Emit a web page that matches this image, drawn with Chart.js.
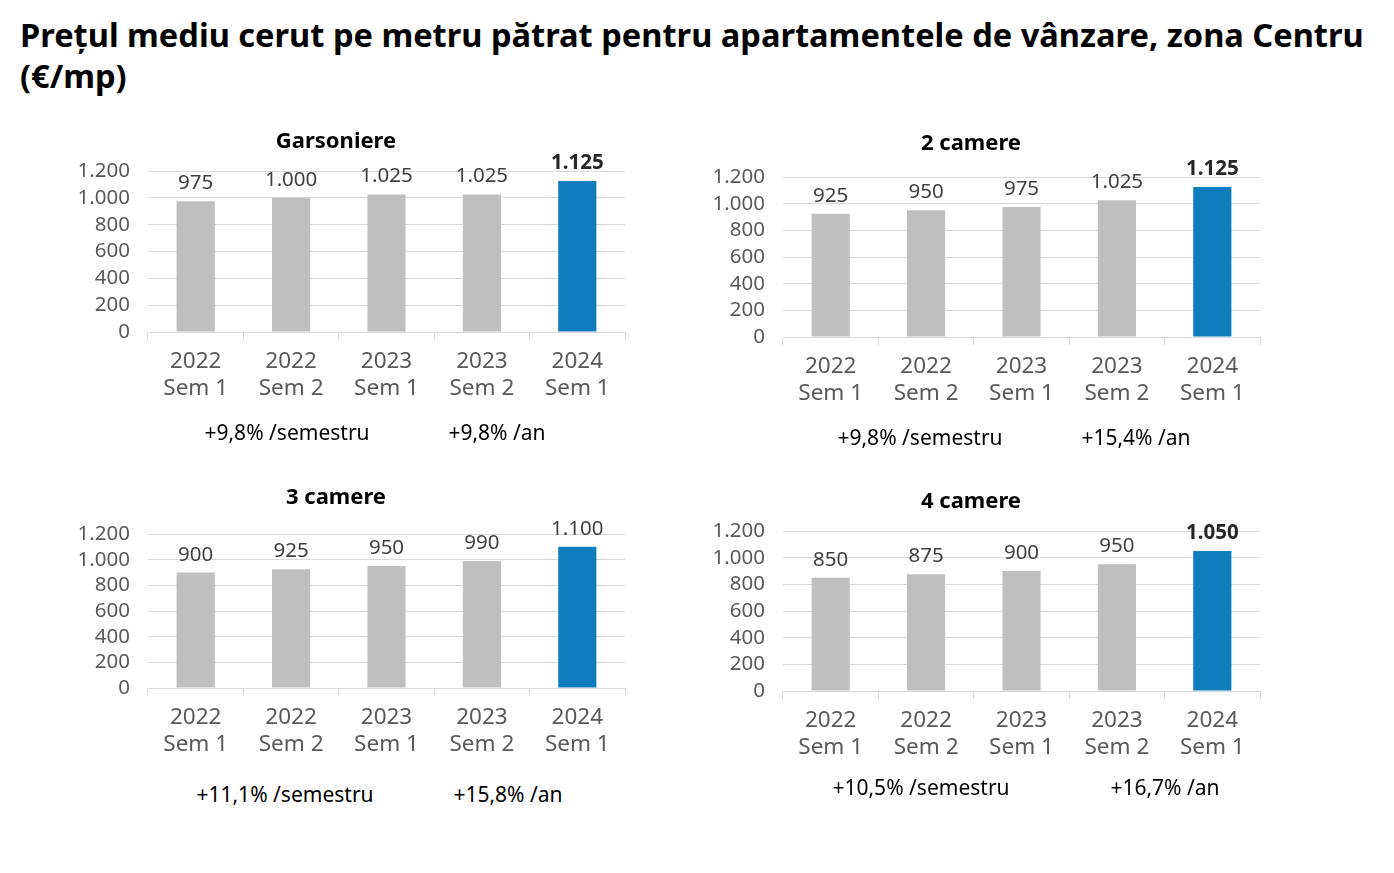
<!DOCTYPE html>
<html>
<head>
<meta charset="utf-8">
<script src="https://cdn.jsdelivr.net/npm/chart.js@4.4.1/dist/chart.umd.min.js"></script>
<style>
  html, body { margin:0; padding:0; background:#fff; }
  body { width:1394px; height:873px; position:relative; overflow:hidden; font-family:"Noto Sans", sans-serif; }
  #title { position:absolute; left:20px; top:14px; width:1374px; font-size:32.6px; font-weight:bold; line-height:41px; color:#000; white-space:nowrap; }
  .box { position:absolute; }
  .ctitle { position:absolute; transform:translate(-50%,-50%); font-size:22px; font-weight:bold; color:#000; white-space:nowrap; }
  .ann { position:absolute; transform:translate(-50%,-50%); font-size:21px; color:#000; white-space:nowrap; }
</style>
</head>
<body>
<div id="title">Prețul mediu cerut pe metru pătrat pentru apartamentele de vânzare, zona Centru<br>(€/mp)</div>

<script>
// ---- DATA ----
const categories = [["2022","Sem 1"],["2022","Sem 2"],["2023","Sem 1"],["2023","Sem 2"],["2024","Sem 1"]];
const yTicks = [0, 200, 400, 600, 800, 1000, 1200];
const garsoniere = [975, 1000, 1025, 1025, 1125];
const camere2 = [925, 950, 975, 1025, 1125];
const camere3 = [900, 925, 950, 990, 1100];
const camere4 = [850, 875, 900, 950, 1050];
const chartTitles = ["Garsoniere", "2 camere", "3 camere", "4 camere"];
const semestruText = ["+9,8% /semestru", "+9,8% /semestru", "+11,1% /semestru", "+10,5% /semestru"];
const anText = ["+9,8% /an", "+15,4% /an", "+15,8% /an", "+16,7% /an"];
const lastBold = [true, true, false, true];

// ---- LAYOUT ----
const layouts = [
  {L:148, R:625, T:171, B:332, tx:336, ty:139, ay:432, a1:287, a2:497},
  {L:783, R:1260, T:177, B:337, tx:971, ty:141, ay:437, a1:920, a2:1136},
  {L:148, R:625, T:534, B:688, tx:336, ty:495, ay:794, a1:285, a2:508},
  {L:783, R:1260, T:531, B:691, tx:971, ty:499, ay:787, a1:921, a2:1165}
];
const seriesList = [garsoniere, camere2, camere3, camere4];

const FONT = '"Noto Sans", sans-serif';
const YW = 88, XH = 88, PT = 51, PR = 35;

function fmt(v) {
  if (v >= 1000) return Math.floor(v / 1000) + '.' + String(v % 1000).padStart(3, '0');
  return String(v);
}

const valueLabels = {
  id: 'valueLabels',
  afterDatasetsDraw(chart, args, opts) {
    const ctx = chart.ctx;
    const meta = chart.getDatasetMeta(0);
    const data = chart.data.datasets[0].data;
    ctx.save();
    ctx.textAlign = 'center';
    ctx.textBaseline = 'alphabetic';
    meta.data.forEach((bar, i) => {
      const bold = opts.bold && i === data.length - 1;
      ctx.font = (bold ? 'bold ' : '') + '20.5px ' + FONT;
      ctx.fillStyle = bold ? '#262626' : '#404040';
      ctx.fillText(fmt(data[i]), bar.x, bar.y - 12);
    });
    ctx.restore();
  }
};

layouts.forEach((lay, idx) => {
  const w = (lay.R - lay.L) + YW + PR;
  const h = (lay.B - lay.T) + PT + XH;
  const box = document.createElement('div');
  box.className = 'box';
  box.style.left = (lay.L - YW) + 'px';
  box.style.top = (lay.T - PT) + 'px';
  box.style.width = w + 'px';
  box.style.height = h + 'px';
  const cv = document.createElement('canvas');
  box.appendChild(cv);
  document.body.appendChild(box);

  const t = document.createElement('div');
  t.className = 'ctitle'; t.textContent = chartTitles[idx];
  t.style.left = lay.tx + 'px'; t.style.top = lay.ty + 'px';
  document.body.appendChild(t);
  const a1 = document.createElement('div');
  a1.className = 'ann'; a1.textContent = semestruText[idx];
  a1.style.left = lay.a1 + 'px'; a1.style.top = lay.ay + 'px';
  document.body.appendChild(a1);
  const a2 = document.createElement('div');
  a2.className = 'ann'; a2.textContent = anText[idx];
  a2.style.left = lay.a2 + 'px'; a2.style.top = lay.ay + 'px';
  document.body.appendChild(a2);

  const vals = seriesList[idx];
  const colors = vals.map((v, i) => i === vals.length - 1 ? '#0E7CBD' : '#BFBFBF');

  new Chart(cv, {
    type: 'bar',
    data: {
      labels: categories,
      datasets: [{ data: vals, backgroundColor: colors, borderWidth: 0, barPercentage: 0.4, categoryPercentage: 1.0 }]
    },
    options: {
      responsive: true,
      maintainAspectRatio: false,
      animation: false,
      layout: { padding: { top: PT, right: PR, left: 0, bottom: 0 } },
      plugins: {
        legend: { display: false },
        tooltip: { enabled: false },
        title: { display: false },
        valueLabels: { bold: lastBold[idx] }
      },
      scales: {
        x: {
          afterFit(s) { s.height = XH; },
          grid: { display: true, drawOnChartArea: false, drawTicks: true, tickLength: 8, color: '#D9D9D9', offset: true },
          border: { display: true, color: '#D9D9D9', width: 1 },
          ticks: { color: '#595959', font: { family: FONT, size: 22.5, lineHeight: 1.2 }, padding: 8, maxRotation: 0, autoSkip: false }
        },
        y: {
          min: 0, max: 1200,
          afterFit(s) { s.width = YW; },
          afterBuildTicks(s) { s.ticks = yTicks.map(v => ({ value: v })); },
          grid: { color: '#D9D9D9', drawTicks: false, lineWidth: 1 },
          border: { display: false },
          ticks: { color: '#595959', font: { family: FONT, size: 20.5 }, padding: 18, autoSkip: false, callback: v => fmt(v) }
        }
      }
    },
    plugins: [valueLabels]
  });
});
</script>
</body>
</html>
